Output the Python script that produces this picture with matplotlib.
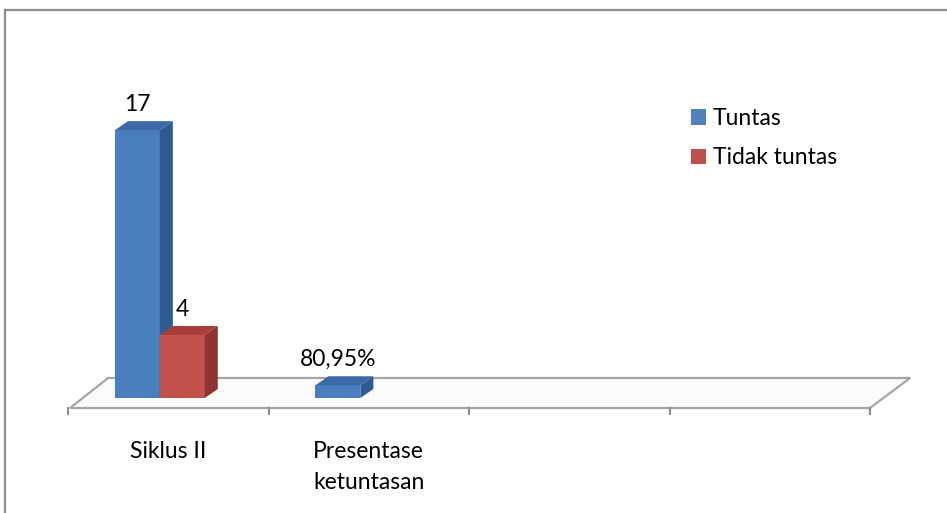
import numpy as np
import matplotlib
matplotlib.use("Agg")
import matplotlib.pyplot as plt
from matplotlib.patches import Polygon, Patch
from matplotlib.lines import Line2D

plt.rcParams["font.family"] = ["Lato", "DejaVu Sans"]

# data
categories = ["Siklus II", "Presentase\nketuntasan", "", ""]
tuntas = [17, 0.8095]
tidak_tuntas = [4, np.nan]
label_tuntas = ["17", "80,95%"]
label_tidak = ["4", ""]

W, H = 947, 513
fig = plt.figure(figsize=(W / 100, H / 100), dpi=100)
# axes spans floor area: x px 68..870, y px 420..60
ax = fig.add_axes([68 / W, (H - 420) / H, 802 / W, 360 / H])
ax.set_xlim(0, 4)
ax.set_ylim(-1.396, 21.45)
for s in ax.spines.values():
    s.set_visible(False)
ax.set_yticks([])

FS = 16.5
dx, dy = 0.065, 0.57       # depth offset of the fake 3d boxes
bw = 0.224                 # bar width
edge = "#A6A6A6"

# floor
floor_front, floor_back = -0.635, 1.27
ax.add_patch(Polygon([(0.01, floor_front), (4.0, floor_front), (4.2, floor_back), (0.2, floor_back)],
                     closed=True, facecolor="#FBFBFB", edgecolor=edge, lw=1.6,
                     clip_on=False, zorder=1))
for i in range(5):
    ax.plot([i, i], [floor_front, -1.02], color="#8C8C8C", lw=1.5, clip_on=False, zorder=1)


def box(x, h, front, side, top):
    ax.bar(x, h, width=bw, align="edge", color=front, lw=0, zorder=3)
    ax.add_patch(Polygon([(x, h), (x + dx, h + dy), (x + bw + dx, h + dy), (x + bw, h)],
                         closed=True, facecolor=top, lw=0, zorder=3))
    ax.add_patch(Polygon([(x + bw, 0), (x + bw + dx, dy), (x + bw + dx, h + dy), (x + bw, h)],
                         closed=True, facecolor=side, lw=0, zorder=3))


series = [
    (tuntas, label_tuntas, ("#4A7EBF", "#2F5B93", "#3C69A8")),
    (tidak_tuntas, label_tidak, ("#C4504C", "#8E3330", "#A83F3B")),
]
for k, (vals, labs, cols) in enumerate(series):
    for i, v in enumerate(vals):
        if np.isnan(v):
            continue
        x = i + 0.234 + k * bw
        box(x, v, *cols)
        ax.annotate(labs[i], (x + bw / 2, v + dy), xytext=(0, 6), textcoords="offset pixels",
                    ha="center", va="bottom", fontsize=FS, color="black", zorder=5)

ax.set_xticks(np.arange(4) + 0.5, categories, fontsize=FS, linespacing=1.62)
ax.tick_params(axis="x", length=0, pad=15)

handles = [Patch(facecolor="#4F81BD", label="Tuntas"),
           Patch(facecolor="#C0504D", label="Tidak tuntas")]
fig.legend(handles=handles, loc="upper left", bbox_to_anchor=(691 / W, 1 - 108 / H),
           frameon=False, fontsize=FS, handlelength=0.65, handleheight=0.65,
           handletextpad=0.3, labelspacing=0.8, borderpad=0, borderaxespad=0)

# outer frame (top and left edges visible)
fig.add_artist(Line2D([5 / W, 5 / W], [0, 1 - 10 / H], color="#8C8C8C", lw=1.6))
fig.add_artist(Line2D([5 / W, 1], [1 - 10 / H, 1 - 10 / H], color="#8C8C8C", lw=1.6))

fig.savefig("out.png", dpi=100)
